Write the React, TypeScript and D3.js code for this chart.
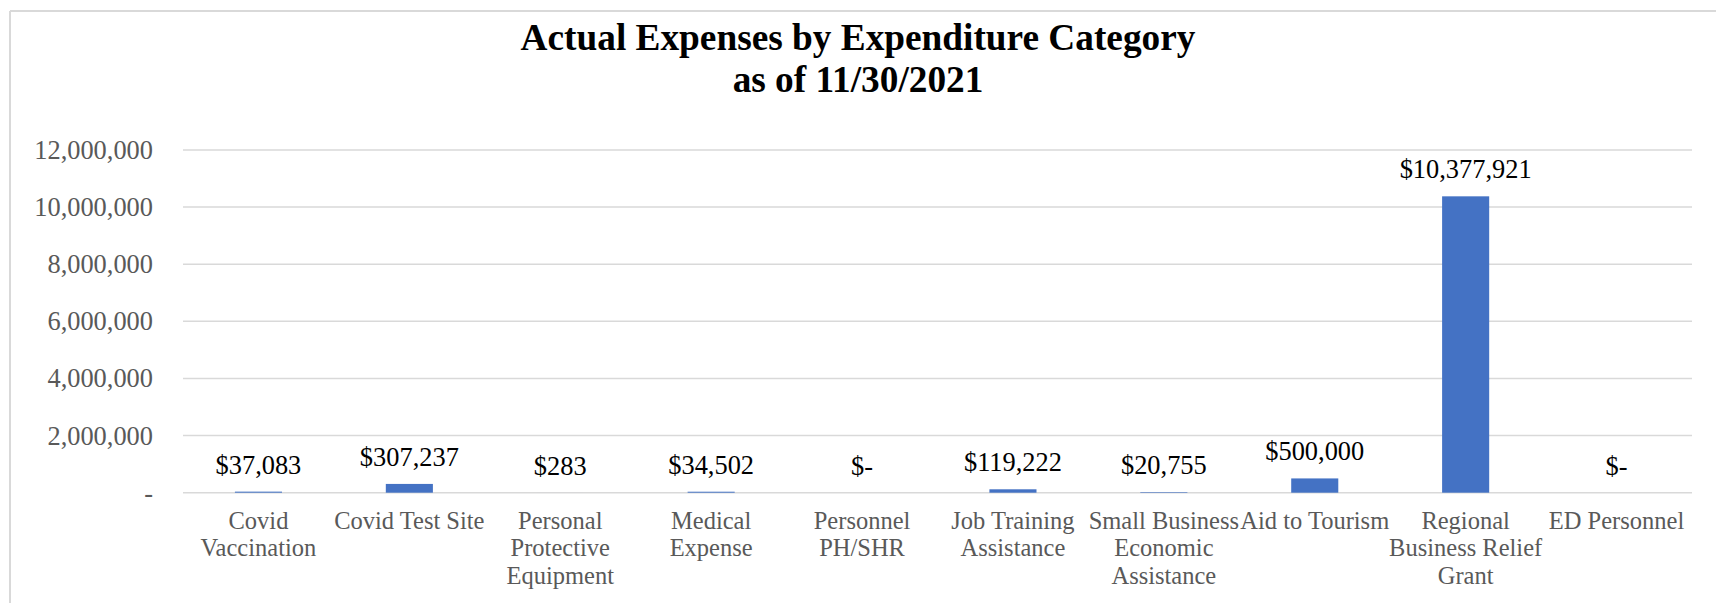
import React from "react";
import * as d3 from "d3";

const titleLines = ["Actual Expenses by Expenditure Category", "as of 11/30/2021"];
const categories = [
  "Covid Vaccination",
  "Covid Test Site",
  "Personal Protective Equipment",
  "Medical Expense",
  "Personnel PH/SHR",
  "Job Training Assistance",
  "Small Business Economic Assistance",
  "Aid to Tourism",
  "Regional Business Relief Grant",
  "ED Personnel",
];
const categoryLines = [
  ["Covid", "Vaccination"],
  ["Covid Test Site"],
  ["Personal", "Protective", "Equipment"],
  ["Medical", "Expense"],
  ["Personnel", "PH/SHR"],
  ["Job Training", "Assistance"],
  ["Small Business", "Economic", "Assistance"],
  ["Aid to Tourism"],
  ["Regional", "Business Relief", "Grant"],
  ["ED Personnel"],
];
const values = [37083, 307237, 283, 34502, 0, 119222, 20755, 500000, 10377921, 0];
const yTicks = [0, 2000000, 4000000, 6000000, 8000000, 10000000, 12000000];

const W = 1716;
const H = 603;
const plotLeft = 183;
const plotRight = 1692;
const plotTop = 150;
const plotBottom = 492.7;

const FONT = '"Liberation Serif", "Times New Roman", Tinos, "DejaVu Serif", serif';

export default function App() {
  const x = d3.scaleBand<string>().domain(categories).range([plotLeft, plotRight]).padding(0);
  const y = d3.scaleLinear().domain([0, 12000000]).range([plotBottom, plotTop]);
  const barW = x.bandwidth() * 0.312;
  const fmtTick = (v: number) => (v === 0 ? "-" : d3.format(",")(v));
  const fmtVal = (v: number) => (v === 0 ? "$-" : "$" + d3.format(",")(v));

  return (
    <div style={{ position: "absolute", left: 0, top: 0 }}>
      <svg width={W} height={H} style={{ display: "block", background: "#fff", fontFamily: FONT }}>
        <rect x={0} y={0} width={W} height={H} fill="#fff" />
        <line x1={10} y1={11} x2={W} y2={11} stroke="#d9d9d9" strokeWidth={2} />
        <line x1={10} y1={11} x2={10} y2={H} stroke="#d9d9d9" strokeWidth={2} />

        {titleLines.map((t, i) => (
          <text
            key={i}
            x={W / 2}
            y={50 + i * 42.3}
            textAnchor="middle"
            style={{ fontFamily: FONT, fontWeight: "bold", fontSize: "37.3px" }}
            fill="#000"
          >
            {t}
          </text>
        ))}

        {yTicks.map((t) => (
          <g key={t}>
            <line
              x1={plotLeft}
              x2={plotRight}
              y1={y(t)}
              y2={y(t)}
              stroke="#d9d9d9"
              strokeWidth={1.5}
            />
            <text
              x={153}
              y={y(t) + 9}
              textAnchor="end"
              style={{ fontFamily: FONT, fontSize: "26.4px" }}
              fill="#595959"
            >
              {fmtTick(t)}
            </text>
          </g>
        ))}

        {categories.map((c, i) => {
          const cx = (x(c) as number) + x.bandwidth() / 2;
          const top = y(values[i]);
          return (
            <g key={c}>
              {values[i] > 0 && (
                <rect
                  x={cx - barW / 2}
                  y={top}
                  width={barW}
                  height={Math.max(plotBottom - top, 0)}
                  fill="#4472C4"
                />
              )}
              <text
                x={cx}
                y={top - 18}
                textAnchor="middle"
                style={{ fontFamily: FONT, fontSize: "26.4px" }}
                fill="#000"
              >
                {fmtVal(values[i])}
              </text>
              {categoryLines[i].map((ln, j) => (
                <text
                  key={j}
                  x={cx}
                  y={529 + j * 27.3}
                  textAnchor="middle"
                  style={{ fontFamily: FONT, fontSize: "24.5px" }}
                  fill="#595959"
                >
                  {ln}
                </text>
              ))}
            </g>
          );
        })}
      </svg>
    </div>
  );
}
